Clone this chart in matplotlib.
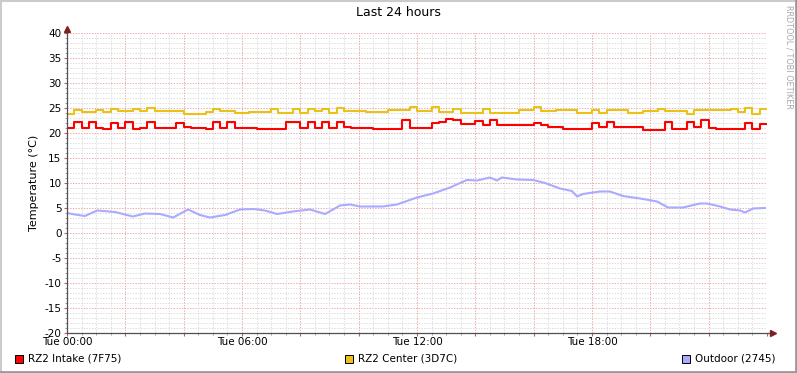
import numpy as np
import matplotlib.pyplot as plt
from matplotlib.patches import Rectangle
from matplotlib.lines import Line2D
from matplotlib.ticker import MultipleLocator, FuncFormatter

# 15 minute readings, RZ2 Intake (7F75)
intake = [21.0, 22.2, 21.0, 22.2, 21.1, 20.9, 22.1, 21.0, 22.2, 20.9, 21.0, 22.3,
          21.1, 21.1, 21.0, 22.1, 21.2, 21.0, 21.0, 20.8, 22.3, 21.0, 22.2, 21.1,
          21.0, 21.0, 20.9, 20.9, 20.8, 20.9, 22.2, 22.3, 21.1, 22.3, 21.0, 22.2,
          21.1, 22.3, 21.3, 21.1, 21.1, 21.0, 20.9, 20.9, 20.9, 20.8, 22.6, 21.0,
          21.0, 21.0, 22.1, 22.3, 22.9, 22.7, 21.8, 21.8, 22.5, 21.7, 22.6, 21.7,
          21.7, 21.7, 21.7, 21.7, 22.1, 21.7, 21.3, 21.3, 20.9, 20.9, 20.9, 20.9,
          22.1, 21.3, 22.3, 21.3, 21.3, 21.3, 21.2, 20.7, 20.7, 20.7, 22.2, 20.9,
          20.9, 22.3, 21.2, 22.6, 21.1, 20.9, 20.9, 20.9, 20.9, 22.1, 20.8, 21.8]

# 15 minute readings, RZ2 Center (3D7C)
center = [23.9, 24.7, 24.3, 24.3, 24.7, 24.2, 24.9, 24.4, 24.4, 24.9, 24.5, 25.0,
          24.4, 24.4, 24.4, 24.4, 23.9, 23.9, 23.9, 24.3, 24.9, 24.5, 24.5, 24.0,
          24.0, 24.3, 24.3, 24.3, 24.9, 24.1, 24.1, 24.9, 24.1, 24.9, 24.5, 24.9,
          24.0, 25.1, 24.5, 24.5, 24.5, 24.3, 24.3, 24.3, 24.6, 24.6, 24.6, 25.3,
          24.4, 24.4, 25.3, 24.3, 24.3, 24.9, 24.0, 24.0, 24.0, 24.9, 24.0, 24.0,
          24.0, 24.0, 24.7, 24.7, 25.3, 24.4, 24.4, 24.6, 24.6, 24.6, 24.0, 24.0,
          24.7, 24.0, 24.7, 24.7, 24.7, 24.0, 24.0, 24.5, 24.5, 24.9, 24.5, 24.5,
          24.5, 23.9, 24.6, 24.6, 24.6, 24.6, 24.6, 24.9, 24.3, 25.1, 23.9, 24.9]

# Outdoor (2745), read at irregular times
outdoor_hours = [0.0, 0.27, 0.62, 1.03, 1.65, 2.26, 2.67, 3.19, 3.64, 4.15, 4.56, 4.90,
                 5.42, 5.93, 6.38, 6.79, 7.20, 7.75, 8.33, 8.85, 9.36, 9.70, 10.05,
                 10.83, 11.31, 12.0, 12.55, 13.13, 13.71, 14.06, 14.50, 14.74, 14.91,
                 15.43, 15.98, 16.39, 16.90, 17.31, 17.49, 17.69, 18.27, 18.62, 19.06,
                 19.65, 20.23, 20.61, 21.12, 21.70, 21.94, 22.39, 22.73, 23.08, 23.25,
                 23.52, 23.93]
outdoor = [4.0, 3.7, 3.4, 4.5, 4.2, 3.3, 3.9, 3.8, 3.1, 4.7, 3.6, 3.1,
           3.6, 4.7, 4.8, 4.5, 3.8, 4.3, 4.7, 3.8, 5.5, 5.7, 5.3,
           5.3, 5.7, 7.1, 7.9, 9.1, 10.6, 10.5, 11.1, 10.5, 11.1,
           10.7, 10.6, 10.0, 8.9, 8.4, 7.3, 7.8, 8.3, 8.3, 7.4,
           6.9, 6.3, 5.1, 5.1, 5.9, 5.9, 5.3, 4.7, 4.5, 4.1,
           4.9, 5.0]

step_hours = np.arange(len(intake)) * 0.25
x_labels = {0: 'Tue 00:00', 6: 'Tue 06:00', 12: 'Tue 12:00', 18: 'Tue 18:00'}
legend_names = ['RZ2 Intake (7F75)', 'RZ2 Center (3D7C)', 'Outdoor (2745)']
colors = ['#FF0000', '#EAC117', '#AAAAFF']

W, H = 797, 373
fig = plt.figure(figsize=(W / 100, H / 100), dpi=100)
fig.patch.set_facecolor('white')
ax = fig.add_axes([67 / W, 40 / H, 700 / W, 300 / H])
ax.set_facecolor('white')

# grid
for v in np.arange(-20, 41, 1):
    major = v % 5 == 0
    ax.axhline(v, color='#EAA8A8' if major else '#DCDCDC', lw=0.7,
               ls=(0, (1.4, 1.4)), zorder=1)
for h in np.arange(0, 24.01, 0.5):
    major = h % 2 == 0
    ax.axvline(h, color='#EAA8A8' if major else '#DCDCDC', lw=0.7,
               ls=(0, (1.4, 1.4)), zorder=1)

# data
ax.step(np.append(step_hours, 23.95), intake + [intake[-1]], where='post',
        color=colors[0], lw=1.5, zorder=3)
ax.step(np.append(step_hours, 23.95), center + [center[-1]], where='post',
        color=colors[1], lw=1.5, zorder=3)
ax.plot(outdoor_hours, outdoor, color=colors[2], lw=1.5, zorder=3)

ax.set_xlim(0, 24)
ax.set_ylim(-20, 40)
for s in ['top', 'right', 'left', 'bottom']:
    ax.spines[s].set_visible(False)

ax.yaxis.set_major_locator(MultipleLocator(5))
ax.xaxis.set_major_locator(MultipleLocator(2))
ax.xaxis.set_minor_locator(MultipleLocator(0.5))
ax.yaxis.set_minor_locator(MultipleLocator(1))
ax.xaxis.set_major_formatter(FuncFormatter(lambda h, p: x_labels.get(int(round(h)), '')))
ax.yaxis.set_major_formatter(FuncFormatter(lambda v, p: '%d' % v))
ax.tick_params(axis='both', which='major', length=2, width=0.8, color='#C06060',
               labelsize=7.5, pad=2)
ax.tick_params(axis='both', which='minor', length=1.5, width=0.6, color='#909090')
ax.tick_params(axis='x', pad=1)
ax.set_ylabel('Temperature (°C)', fontsize=8, labelpad=4)

# axis lines with arrows
ax.add_line(Line2D([0, 0], [0, 1.012], transform=ax.transAxes, color='#505050',
                   lw=0.9, clip_on=False, zorder=4))
ax.add_line(Line2D([0, 1.005], [0, 0], transform=ax.transAxes, color='#505050',
                   lw=0.9, clip_on=False, zorder=4))
ax.plot([0], [1.015], marker='^', ms=4, color='#7F1F1F', transform=ax.transAxes,
        clip_on=False, zorder=5)
ax.plot([1.008], [0], marker='>', ms=4, color='#7F1F1F', transform=ax.transAxes,
        clip_on=False, zorder=5)

fig.text(398 / W, 1 - 13 / H, 'Last 24 hours', ha='center', va='center', fontsize=9)
fig.text(789 / W, 1 - 5 / H, 'RRDTOOL / TOBI OETIKER', rotation=270, ha='center',
         va='top', fontsize=5.9, color='#A8A8A8')

# legend
for bx, name, c in zip([15, 345, 682], legend_names, colors):
    fig.patches.append(Rectangle((bx / W, 1 - 363 / H), 8 / W, 8 / H, facecolor=c,
                                 edgecolor='black', lw=0.7, transform=fig.transFigure))
    fig.text((bx + 13) / W, 1 - 358.5 / H, name, ha='left', va='center', fontsize=7.5)

# shaded frame
fig.add_artist(Line2D([0.5 / W, 0.5 / W], [0, 1], color='#CBCBCB', lw=1.5))
fig.add_artist(Line2D([0, 1], [1 - 0.5 / H, 1 - 0.5 / H], color='#CBCBCB', lw=1.5))
fig.add_artist(Line2D([1 - 1 / W, 1 - 1 / W], [0, 1], color='#999999', lw=2))
fig.add_artist(Line2D([0, 1], [1 / H, 1 / H], color='#999999', lw=2))

fig.savefig('out.png', dpi=100, facecolor='white')
